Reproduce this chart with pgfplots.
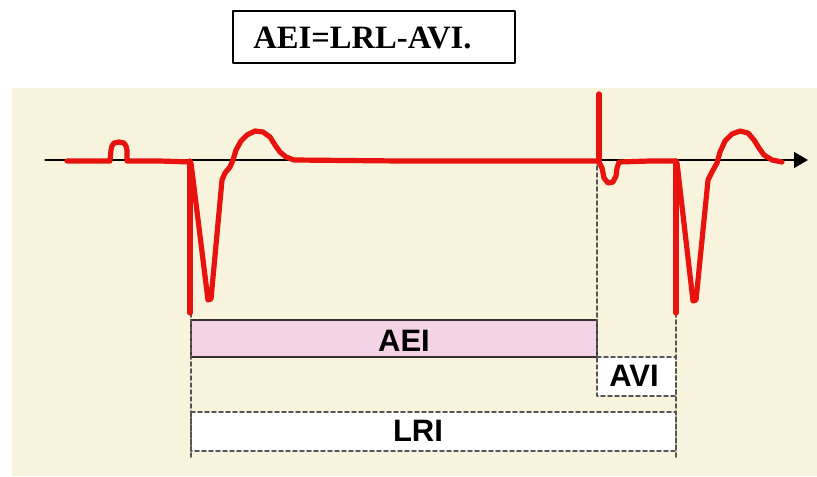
\documentclass[border=0pt]{standalone}
\usepackage{fontspec}
\setmainfont{Liberation Sans}
\newfontfamily\titlefont{Liberation Serif}
\usepackage{pgfplots}
\pgfplotsset{compat=1.18}
\usetikzlibrary{arrows.meta}
\definecolor{bgc}{HTML}{F8F3DC}
\definecolor{ecg}{HTML}{E8120F}
\definecolor{aei}{HTML}{F3D3E5}
\definecolor{dot}{HTML}{555555}
\begin{document}
\begin{tikzpicture}
\begin{axis}[
  width=408.5pt, height=238pt, scale only axis,
  xmin=0, xmax=817, ymin=0, ymax=476, y dir=reverse,
  hide axis, clip=false,
  every axis plot/.append style={line join=round, line cap=round},
]
% full canvas (white)
\addplot[fill=white, draw=none] coordinates {(0,0) (817,0) (817,476) (0,476)} -- cycle;
% background
\addplot[fill=bgc, draw=none] coordinates {(12,88) (817,88) (817,476) (12,476)} -- cycle;
% title box
\addplot[draw=black, line width=1pt, fill=white] coordinates {(233,11) (515,11) (515,63) (233,63)} -- cycle;
\node[anchor=west, font=\titlefont\bfseries\fontsize{16.3}{19}\selectfont, inner sep=0pt] at (axis cs:253,38) {AEI=LRL-AVI.};
% boxes
\addplot[fill=aei, draw=black!80, line width=0.6pt] coordinates {(191,320) (597,320) (597,357) (191,357)} -- cycle;
\addplot[fill=white, draw=dot, line width=0.8pt, dash pattern=on 2pt off 1.5pt] coordinates {(597,357) (676,357) (676,396) (597,396)} -- cycle;
\addplot[fill=white, draw=dot, line width=0.8pt, dash pattern=on 2pt off 1.5pt] coordinates {(191,412) (676,412) (676,451) (191,451)} -- cycle;
% dotted verticals
\addplot[draw=dot, line width=0.8pt, dash pattern=on 2pt off 1.5pt] coordinates {(191,313) (191,457)};
\addplot[draw=dot, line width=0.8pt, dash pattern=on 2pt off 1.5pt] coordinates {(597,166) (597,357)};
\addplot[draw=dot, line width=0.8pt, dash pattern=on 2pt off 1.5pt] coordinates {(676,313) (676,457)};
\node[font=\bfseries\fontsize{15.5}{18}\selectfont] at (axis cs:404,341) {AEI};
\node[font=\bfseries\fontsize{15.5}{18}\selectfont] at (axis cs:634,376) {AVI};
\node[font=\bfseries\fontsize{15.5}{18}\selectfont] at (axis cs:418,431) {LRI};
% time axis
\addplot[draw=black, line width=0.6pt, -{Triangle[length=7pt,width=8pt]}] coordinates {(45,160) (808,160)};
% ECG trace
\addplot[draw=ecg, line width=2.6pt] coordinates {
(67,161) (110,161) (111,150) (112,146) (114,143) (119,142) (124,143) (126,146) (127,150) (127,161) (160,161) (190,162)};
\addplot[draw=ecg, line width=2.6pt] coordinates {(190,161) (190,313)};
\addplot[draw=ecg, line width=2.6pt] coordinates {
(191,163) (208,300) (211,299) (222,180) (225,173) (230,167) (233,160) (236,150) (241,141) (247,135) (255,131) (263,132) (270,137) (275,145) (280,152) (286,157) (294,160) (400,161) (597,161)};
\addplot[draw=ecg, line width=2.6pt] coordinates {(599,163) (599,94)};
\addplot[draw=ecg, line width=2.6pt] coordinates {
(599,162) (602,168) (604,178) (608,183) (613,182) (616,176) (617,168) (619,162) (650,161) (676,161)};
\addplot[draw=ecg, line width=2.6pt] coordinates {(676,161) (676,313)};
\addplot[draw=ecg, line width=2.6pt] coordinates {
(677,163) (693,301) (696,300) (708,180) (712,172) (717,163) (720,152) (725,141) (732,134) (740,131) (748,133) (754,140) (759,148) (764,155) (772,160) (782,162)};
\end{axis}
\end{tikzpicture}
\end{document}
